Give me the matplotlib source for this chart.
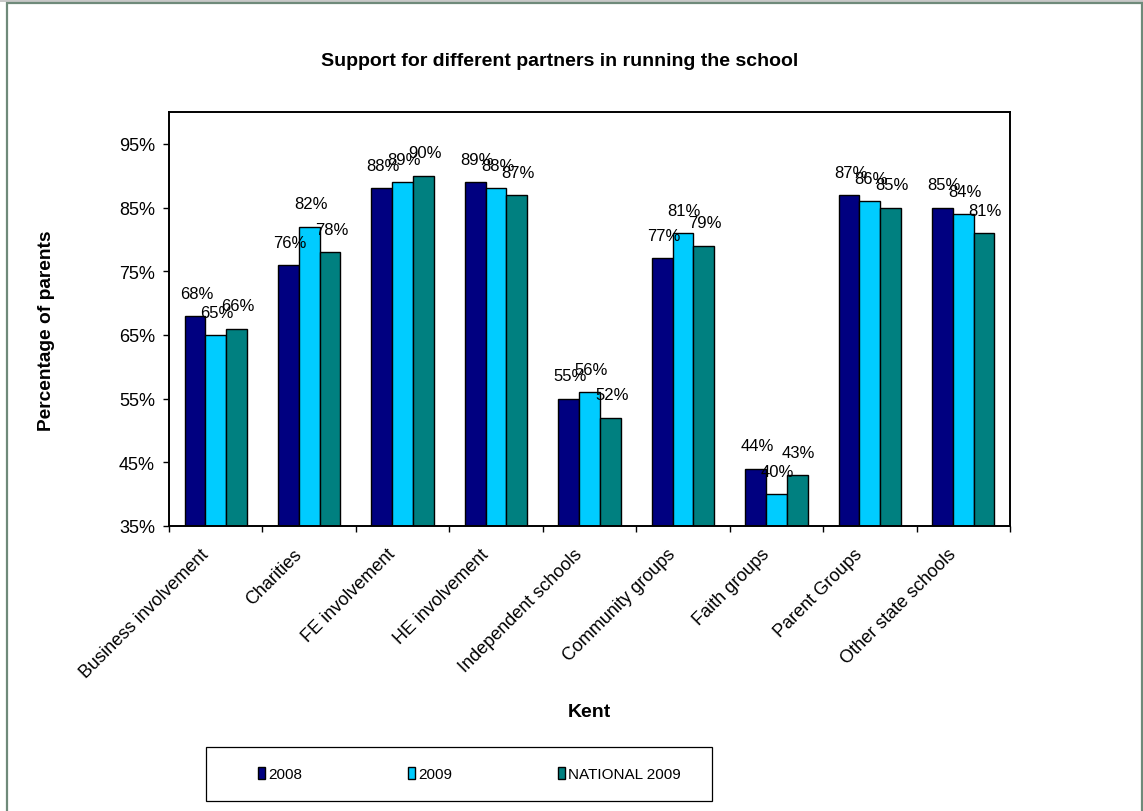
import matplotlib
matplotlib.use("Agg")
import matplotlib.pyplot as plt
from matplotlib.patches import Rectangle, Patch
from matplotlib.ticker import FuncFormatter
from matplotlib import font_manager
import matplotlib.transforms as mtransforms
import numpy as np

plt.rcParams['font.family'] = ['Liberation Sans', 'DejaVu Sans']

categories = ["Business involvement", "Charities", "FE involvement", "HE involvement",
              "Independent schools", "Community groups", "Faith groups",
              "Parent Groups", "Other state schools"]
series_names = ["2008", "2009", "NATIONAL 2009"]
values_2008 = [68, 76, 88, 89, 55, 77, 44, 87, 85]
values_2009 = [65, 82, 89, 88, 56, 81, 40, 86, 84]
values_national = [66, 78, 90, 87, 52, 79, 43, 85, 81]
colors = ["#000080", "#00CCFF", "#008080"]
y_ticks = [35, 45, 55, 65, 75, 85, 95]

W, H = 1143, 812
DPI = 100
fig = plt.figure(figsize=(W / DPI, H / DPI), dpi=DPI)
fig.patch.set_facecolor("white")


def px_box(x0, y0, x1, y1):
    """Figure-fraction rectangle from pixel edges (y measured from the top)."""
    return [x0 / W, 1 - y1 / H, (x1 - x0) / W, (y1 - y0) / H]


# outer chart frame and thin grey strip above it
fig.add_artist(Rectangle((0, 1 - 2.5 / H), 1, 2.5 / H, transform=fig.transFigure,
                         facecolor="#c8c8c8", edgecolor="none"))
fig.add_artist(Rectangle((7 / W, -0.05), (1142 - 7) / W, 1 - 4 / H + 0.05,
                         transform=fig.transFigure, facecolor="none",
                         edgecolor="#6f8a7a", linewidth=1.6))

ax = fig.add_axes(px_box(169, 113, 1010, 527))

all_series = [values_2008, values_2009, values_national]
n = len(categories)
x = np.arange(n)
bw = 1 / 4.5
for i, (vals, col) in enumerate(zip(all_series, colors)):
    pos = x + (i - 1) * bw
    ax.bar(pos, vals, width=bw, bottom=0, color=col, edgecolor="black",
           linewidth=1.0, zorder=2)
    for p, v in zip(pos, vals):
        ax.annotate(f"{v}%", (p, v), xytext=(1, 11), textcoords="offset points",
                    ha="center", va="bottom", fontsize=12, color="black")

ax.set_xlim(-0.5, n - 0.5)
ax.set_ylim(35, 100)
ax.set_yticks(y_ticks)
ax.yaxis.set_major_formatter(FuncFormatter(lambda v, _: f"{v:.0f}%"))
ax.tick_params(axis="y", direction="out", length=4, width=1, labelsize=13, pad=6)

# category boundaries carry tick marks, centres carry the labels
ax.set_xticks(np.arange(-0.5, n, 1.0))
ax.set_xticklabels([])
ax.tick_params(axis="x", which="major", direction="out", length=4, width=1)
ax.set_xticks(x, minor=True)
ax.set_xticklabels(categories, minor=True, rotation=45, ha="right",
                   rotation_mode="anchor", fontsize=13)
ax.tick_params(axis="x", which="minor", length=0, pad=14)
shift = mtransforms.ScaledTranslation(-16 / DPI, 0, fig.dpi_scale_trans)
for lbl in ax.get_xticklabels(minor=True):
    lbl.set_transform(lbl.get_transform() + shift)

for s in ax.spines.values():
    s.set_linewidth(1.4)
    s.set_color("black")

fig.text(560 / W, 1 - 62 / H, "Support for different partners in running the school",
         ha="center", va="center", fontsize=14, fontweight="bold")
fig.text(47 / W, 1 - 331 / H, "Percentage of parents", rotation=90,
         ha="center", va="center", fontsize=13.8, fontweight="bold")
fig.text(589 / W, 1 - 713 / H, "Kent", ha="center", va="center",
         fontsize=14, fontweight="bold")

# legend box
fig.add_artist(Rectangle((206 / W, 1 - 802 / H), (712 - 206) / W, (802 - 748) / H,
                         transform=fig.transFigure, facecolor="white",
                         edgecolor="black", linewidth=0.9))
installed = {f.name for f in font_manager.fontManager.ttflist}
if "Liberation Sans Narrow" in installed:
    leg_font = {"family": "Liberation Sans Narrow", "size": 12.5}
else:
    leg_font = {"family": "Liberation Sans", "size": 11}
handles = [Patch(facecolor=c, edgecolor="black", linewidth=1.0) for c in colors]
leg = fig.legend(handles, series_names, loc="center left",
                 bbox_to_anchor=(258 / W, 1 - 775 / H),
                 ncol=3, frameon=False, prop=leg_font, handlelength=0.45,
                 handleheight=0.9, handletextpad=0.2, columnspacing=1.0,
                 borderpad=0, borderaxespad=0)
fig.canvas.draw()
# place columns on a fixed pitch
texts = leg.get_texts()
r = fig.canvas.get_renderer()
col_w = [t.get_window_extent(r).width for t in texts]
fs_px = leg_font["size"] * DPI / 72
target_pitch = 150
gap = target_pitch - (0.45 * fs_px + 0.2 * fs_px + col_w[0])
leg.remove()
leg = fig.legend(handles, series_names, loc="center left",
                 bbox_to_anchor=(258 / W, 1 - 775 / H),
                 ncol=3, frameon=False, prop=leg_font, handlelength=0.45,
                 handleheight=0.9, handletextpad=0.2, columnspacing=gap / fs_px,
                 borderpad=0, borderaxespad=0)

fig.savefig("out.png", dpi=DPI, facecolor="white")
